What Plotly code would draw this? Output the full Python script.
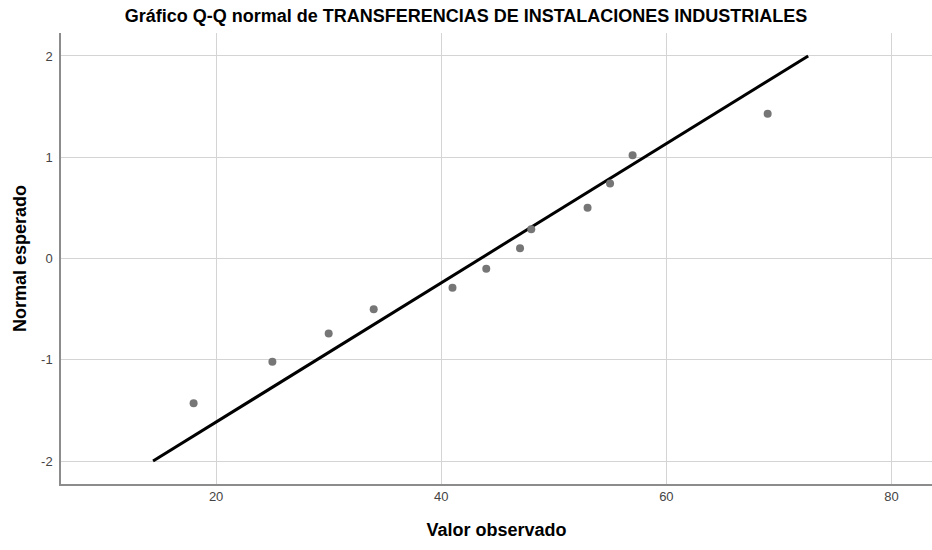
import plotly.graph_objects as go

# observed values and expected normal scores
observed = [18, 25, 30, 34, 41, 44, 47, 48, 53, 55, 57, 69]
expected = [-1.43, -1.02, -0.74, -0.50, -0.29, -0.10, 0.10, 0.29, 0.50, 0.74, 1.02, 1.43]

# reference line endpoints
ref_x = [14.4, 72.6]
ref_y = [-2, 2]

x_ticks = [20, 40, 60, 80]
y_ticks = [-2, -1, 0, 1, 2]
y_tick_text = ["-2", "-1", "0", "1", "2"]

font_family = "Liberation Sans, Arial, sans-serif"

fig = go.Figure()

fig.add_trace(go.Scatter(
    x=ref_x, y=ref_y, mode="lines",
    line=dict(color="black", width=3),
    hoverinfo="skip", showlegend=False,
))

fig.add_trace(go.Scatter(
    x=observed, y=expected, mode="markers",
    marker=dict(color="#767676", size=8),
    showlegend=False,
))

fig.update_layout(
    width=932, height=550,
    margin=dict(l=61, r=0, t=33, b=66, autoexpand=False),
    paper_bgcolor="white",
    plot_bgcolor="white",
    font=dict(family=font_family, size=13, color="#444444"),
    title=dict(
        text="<b>Gráfico Q-Q normal de TRANSFERENCIAS DE INSTALACIONES INDUSTRIALES</b>",
        x=0.5, xanchor="center", y=0.972, yanchor="middle",
        font=dict(size=18, color="black", family=font_family),
    ),
)

fig.update_xaxes(
    range=[6.22, 83.6],
    tickvals=x_ticks,
    showgrid=True, gridcolor="#d4d4d4", gridwidth=1,
    zeroline=False,
    showline=True, linecolor="#8c8c8c", linewidth=1.5,
    ticks="", ticklen=0,
    title=dict(text="<b>Valor observado</b>", font=dict(size=18, color="black"), standoff=20),
)
fig.update_yaxes(
    range=[-2.227, 2.227],
    tickvals=y_ticks, ticktext=y_tick_text,
    showgrid=True, gridcolor="#d4d4d4", gridwidth=1,
    zeroline=False,
    showline=True, linecolor="#8c8c8c", linewidth=1.5,
    ticks="", ticklen=0, ticklabelstandoff=4,
    title=dict(text="<b>Normal esperado</b>", font=dict(size=18, color="black"), standoff=10),
)

# drop the default page margin so the figure sits at the window corner
fig.write_html(
    "out.html",
    config={"displayModeBar": False},
    post_script="document.body.style.margin='0';document.body.style.overflow='hidden';",
)
